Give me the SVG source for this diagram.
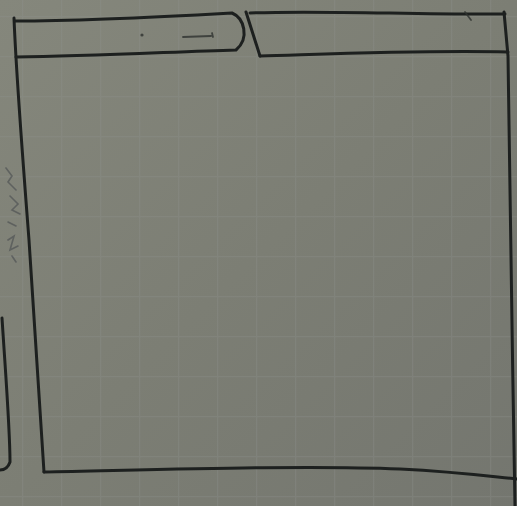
<svg xmlns="http://www.w3.org/2000/svg" width="517" height="506" viewBox="0 0 517 506">
  <defs>
    <linearGradient id="paper" x1="0" y1="0" x2="1" y2="1">
      <stop offset="0" stop-color="#85877c"/>
      <stop offset="0.5" stop-color="#7c7e74"/>
      <stop offset="1" stop-color="#74766f"/>
    </linearGradient>
    <pattern id="grid" width="39" height="40" patternUnits="userSpaceOnUse" x="22" y="16">
      <path d="M0,0 V40 M0,0 H39" fill="none" stroke="#8f9190" stroke-width="2.5" opacity="0.3"/>
    </pattern>
  </defs>
  <style>
    .ink { fill: none; stroke: #1d201f; stroke-width: 3; stroke-linecap: round; stroke-linejoin: round; }
    .thin { fill: none; stroke: #2e3230; stroke-width: 1.8; stroke-linecap: round; opacity: 0.8; }
    .faint { fill: none; stroke: #3b3f45; stroke-width: 1.6; stroke-linecap: round; opacity: 0.5; }
  </style>
  <rect width="517" height="506" fill="url(#paper)"/>
  <rect width="517" height="506" fill="url(#grid)"/>

  <g id="frame">
    <path class="ink" d="M14,18 C16,70 22,150 29,240 C35,330 40,410 44,472"/>
    <path class="ink" d="M44,472 C150,470 300,465 400,469 C460,472 495,477 517,479"/>
    <path class="ink" d="M504,12 L508,56 C510,160 512,350 515,506"/>
  </g>

  <g id="tab-left">
    <path class="ink" d="M15,21 C80,21 160,17 232,13 C244,18 250,38 236,50 C170,52 90,56 16,57"/>
    <circle cx="142" cy="35" r="1.6" fill="#2e3230" opacity="0.8"/>
    <path class="thin" d="M183,37 L211,36 M212,33 L213,37"/>
  </g>

  <g id="tab-right">
    <path class="ink" d="M246,12 L260,56"/>
    <path class="ink" d="M250,13 C320,10 420,15 505,14"/>
    <path class="ink" d="M260,56 C330,54 420,50 508,52"/>
    <path class="thin" d="M465,12 L471,20"/>
  </g>

  <g id="left-margin">
    <path class="ink" d="M2,318 C6,380 10,430 10,462 C8,468 4,470 0,470"/>
    <path class="faint" d="M6,168 L12,176 L8,182 L16,190 M10,196 L18,204 L12,210 L20,214 M8,222 L16,226 M8,240 L14,236 L10,250 L18,246 M12,256 L16,262"/>
  </g>
</svg>
